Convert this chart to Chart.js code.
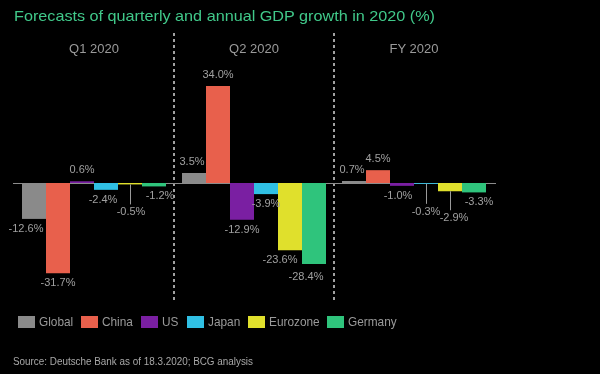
<!DOCTYPE html>
<html>
<head>
<meta charset="utf-8">
<script src="https://cdn.jsdelivr.net/npm/chart.js@4/dist/chart.umd.min.js"></script>
<style>
  html, body { margin: 0; padding: 0; background: #000; }
  #wrap { position: relative; width: 600px; height: 374px; overflow: hidden; background: #000; font-family: "Liberation Sans", Arial, sans-serif; }
  #chart { position: absolute; left: 0; top: 0; }
  .txt { position: absolute; white-space: nowrap; transform-origin: left center; }
  #title { left: 14px; top: 7px; font-size: 15px; line-height: 18px; color: #41c98a; }
  .group { top: 41px; font-size: 13px; line-height: 16px; color: #9a9a9a; }
  #legend { position: absolute; left: 18px; top: 314px; display: flex; align-items: center; font-size: 13px; line-height: 16px; color: #9a9a9a; }
  #legend .item { display: flex; align-items: center; margin-right: 8px; }
  #legend .box { width: 17px; height: 12px; margin-right: 4px; }
  #legend .name { display: inline-block; white-space: nowrap; }
  #legend .name span { display: inline-block; transform-origin: left center; }
  #source { left: 13px; top: 355px; font-size: 10px; line-height: 14px; color: #a8a8a8; }
</style>
</head>
<body>
<div id="wrap">
  <canvas id="chart" width="600" height="374"></canvas>
  <div id="title" class="txt">Forecasts of quarterly and annual GDP growth in 2020 (%)</div>
  <div id="legend"></div>
  <div id="source" class="txt">Source: Deutsche Bank as of 18.3.2020; BCG analysis</div>
</div>
<script>
const periods = ['Q1 2020', 'Q2 2020', 'FY 2020'];
const regions = ['Global', 'China', 'US', 'Japan', 'Eurozone', 'Germany'];
const regionColors = ['#8a8a8a', '#e8604c', '#7a1fa2', '#30c0e4', '#e0e02c', '#2fc47c'];

const globalGrowth = [-12.6, 3.5, 0.7];
const chinaGrowth = [-31.7, 34.0, 4.5];
const usGrowth = [0.6, -12.9, -1.0];
const japanGrowth = [-2.4, -3.9, -0.3];
const eurozoneGrowth = [-0.5, -23.6, -2.9];
const germanyGrowth = [-1.2, -28.4, -3.3];

const seriesValues = [globalGrowth, chinaGrowth, usGrowth, japanGrowth, eurozoneGrowth, germanyGrowth];

// label tweaks: "dataset-category" -> [dx, dy, leader line]
const labelNudge = {
  '0-0': [-8, 0, false],
  '0-1': [-2, 0, false],
  '0-2': [-2, 0, false],
  '2-2': [-4, 0, false],
  '3-0': [-3, 0, false],
  '3-2': [0, 18, true],
  '4-0': [1, 18, true],
  '4-1': [-10, 0, false],
  '4-2': [4, 17, true],
  '5-0': [6, 0, false],
  '5-1': [-8, 3, false],
  '5-2': [5, 0, false],
};

function fitWidth(el, target) {
  const w = el.getBoundingClientRect().width;
  if (w > 0) el.style.transform = `scaleX(${target / w})`;
}

const overlayPlugin = {
  id: 'overlay',
  beforeDatasetsDraw(chart) {
    const { ctx, chartArea, scales } = chart;
    const x = scales.x;
    const y0 = scales.y.getPixelForValue(0);
    ctx.save();
    // dotted separators between the groups
    ctx.strokeStyle = '#d8d8d8';
    ctx.lineWidth = 1.5;
    ctx.setLineDash([3, 3]);
    for (let i = 0; i < periods.length - 1; i++) {
      const xs = (x.getPixelForValue(i) + x.getPixelForValue(i + 1)) / 2;
      ctx.beginPath();
      ctx.moveTo(xs, 33);
      ctx.lineTo(xs, 302);
      ctx.stroke();
    }
    ctx.setLineDash([]);
    // zero line
    ctx.strokeStyle = '#8c8c8c';
    ctx.lineWidth = 1;
    ctx.beginPath();
    ctx.moveTo(chartArea.left - 1, Math.round(y0) + 0.5);
    ctx.lineTo(chartArea.right + 2, Math.round(y0) + 0.5);
    ctx.stroke();
    ctx.restore();
  },
  afterDatasetsDraw(chart) {
    const { ctx } = chart;
    ctx.save();
    ctx.font = '11px "Liberation Sans", Arial, sans-serif';
    ctx.fillStyle = '#a0a0a0';
    ctx.textAlign = 'center';
    ctx.textBaseline = 'middle';
    chart.data.datasets.forEach((ds, i) => {
      const meta = chart.getDatasetMeta(i);
      meta.data.forEach((bar, j) => {
        const v = ds.data[j];
        const [dx, dy, leader] = labelNudge[`${i}-${j}`] || [0, 0, false];
        const lx = bar.x + dx;
        const ly = (v >= 0 ? bar.y - 11 : bar.y + 10) + dy;
        if (leader) {
          ctx.strokeStyle = '#9a9a9a';
          ctx.lineWidth = 1;
          ctx.beginPath();
          ctx.moveTo(Math.round(bar.x) + 0.5, bar.y);
          ctx.lineTo(Math.round(bar.x) + 0.5, ly - 8);
          ctx.stroke();
        }
        ctx.fillText(`${v.toFixed(1)}%`, lx, ly);
      });
    });
    ctx.restore();
  },
};

const chart = new Chart(document.getElementById('chart'), {
  type: 'bar',
  data: {
    labels: periods,
    datasets: regions.map((name, i) => ({
      label: name,
      data: seriesValues[i],
      backgroundColor: regionColors[i],
      borderWidth: 0,
      categoryPercentage: 0.9,
      barPercentage: 1.0,
    })),
  },
  options: {
    responsive: false,
    devicePixelRatio: 1,
    animation: false,
    layout: { padding: { left: 14, right: 106, top: 69, bottom: 77 } },
    plugins: { legend: { display: false }, title: { display: false }, tooltip: { enabled: false } },
    scales: {
      x: { display: false },
      y: { display: false, min: -40, max: 40 },
    },
  },
  plugins: [overlayPlugin],
});

// group headers placed over the category centres
const wrap = document.getElementById('wrap');
periods.forEach((p, i) => {
  const el = document.createElement('div');
  el.className = 'txt group';
  el.textContent = p;
  wrap.appendChild(el);
  const w = el.getBoundingClientRect().width;
  el.style.left = `${chart.scales.x.getPixelForValue(i) - w / 2}px`;
});

// legend built from the datasets, text squeezed a little like the original
const legend = document.getElementById('legend');
const squeeze = 0.91;
chart.data.datasets.forEach((ds) => {
  const item = document.createElement('div');
  item.className = 'item';
  item.innerHTML = `<span class="box" style="background:${ds.backgroundColor}"></span><span class="name"><span>${ds.label}</span></span>`;
  legend.appendChild(item);
  const inner = item.querySelector('.name span');
  const w = inner.getBoundingClientRect().width;
  item.querySelector('.name').style.width = `${w * squeeze}px`;
  inner.style.transform = `scaleX(${squeeze})`;
});

fitWidth(document.getElementById('title'), 421);
fitWidth(document.getElementById('source'), 240);
</script>
</body>
</html>
